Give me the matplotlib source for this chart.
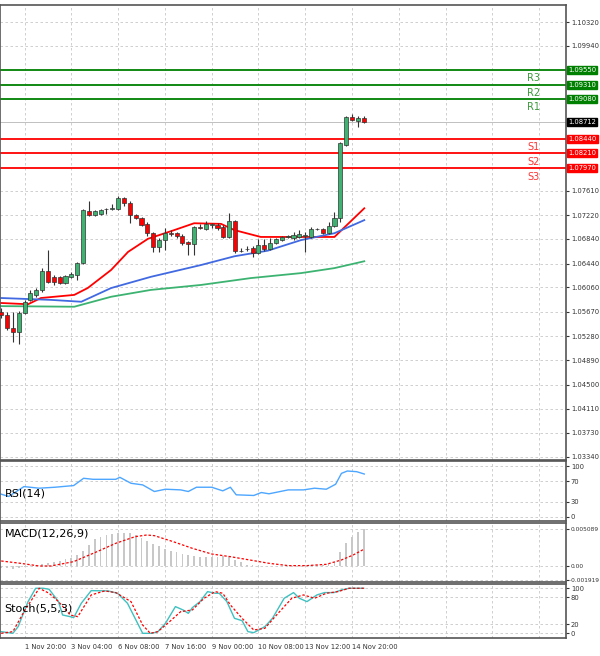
import matplotlib
matplotlib.use("Agg")
import matplotlib.pyplot as plt
import numpy as np

# OHLC, hourly-ish bars (index = bar number)
opens = [1.0567, 1.0562, 1.0541, 1.0534, 1.0565, 1.0586, 1.0594, 1.0602, 1.0632, 1.0623,
         1.0623, 1.0613, 1.0623, 1.0626, 1.0645, 1.0729, 1.0722, 1.0724, 1.0732, 1.0732,
         1.0732, 1.0750, 1.0741, 1.0722, 1.0717, 1.0708, 1.0693, 1.0671, 1.0682, 1.0693,
         1.0693, 1.0689, 1.0679, 1.0676, 1.0703, 1.0700, 1.0706, 1.0706, 1.0703, 1.0687,
         1.0713, 1.0664, 1.0668, 1.0669, 1.0661, 1.0674, 1.0668, 1.0677, 1.0682, 1.0687,
         1.0685, 1.0687, 1.0689, 1.0687, 1.0700, 1.0700, 1.0693, 1.0705, 1.0717, 1.0835,
         1.0880, 1.0873, 1.0878]
highs = [1.0573, 1.0567, 1.0567, 1.0568, 1.0586, 1.0602, 1.0605, 1.0637, 1.0666, 1.0626,
         1.0624, 1.0626, 1.0631, 1.0647, 1.0732, 1.0745, 1.0730, 1.0732, 1.0733, 1.0740,
         1.0753, 1.0751, 1.0745, 1.0724, 1.0719, 1.0711, 1.0695, 1.0685, 1.0701, 1.0698,
         1.0695, 1.0692, 1.0680, 1.0705, 1.0708, 1.0713, 1.0709, 1.0709, 1.0706, 1.0725,
         1.0714, 1.0669, 1.0673, 1.0673, 1.0684, 1.0684, 1.0685, 1.0685, 1.0689, 1.0690,
         1.0695, 1.0698, 1.0695, 1.0703, 1.0701, 1.0701, 1.0711, 1.0727, 1.0839, 1.0881,
         1.0884, 1.0881, 1.0881]
lows = [1.0557, 1.0537, 1.0518, 1.0515, 1.0563, 1.0584, 1.0591, 1.0599, 1.0613, 1.0610,
        1.0612, 1.0612, 1.0621, 1.0618, 1.0644, 1.0721, 1.0721, 1.0722, 1.0724, 1.0730,
        1.0730, 1.0737, 1.0709, 1.0716, 1.0705, 1.0689, 1.0663, 1.0663, 1.0666, 1.0689,
        1.0685, 1.0674, 1.0658, 1.0658, 1.0700, 1.0698, 1.0701, 1.0698, 1.0685, 1.0685,
        1.0661, 1.0663, 1.0664, 1.0655, 1.0660, 1.0664, 1.0666, 1.0676, 1.0680, 1.0685,
        1.0682, 1.0685, 1.0663, 1.0685, 1.0698, 1.0692, 1.0692, 1.0703, 1.0711, 1.0833,
        1.0873, 1.0864, 1.0870]
closes = [1.0562, 1.0541, 1.0534, 1.0565, 1.0583, 1.0597, 1.0602, 1.0632, 1.0615, 1.0615,
          1.0613, 1.0624, 1.0627, 1.0645, 1.0730, 1.0722, 1.0729, 1.0730, 1.0732, 1.0733,
          1.0750, 1.0741, 1.0722, 1.0717, 1.0706, 1.0693, 1.0671, 1.0682, 1.0693, 1.0692,
          1.0689, 1.0677, 1.0676, 1.0703, 1.0702, 1.0708, 1.0707, 1.0701, 1.0687, 1.0713,
          1.0664, 1.0665, 1.0667, 1.0661, 1.0674, 1.0668, 1.0677, 1.0684, 1.0687, 1.0688,
          1.0690, 1.0692, 1.0690, 1.0700, 1.0699, 1.0693, 1.0705, 1.0717, 1.0838, 1.0880,
          1.0875, 1.0878, 1.0871]

# moving averages (bar index, price)
ma_fast_x = [0, 4.6, 6.8, 12.5, 14.8, 18.8, 21.7, 25.1, 29.6, 33.0, 37.6, 39.9, 44.4, 57.0, 62.1]
ma_fast = [1.0581, 1.0579, 1.0589, 1.0594, 1.0605, 1.0634, 1.0663, 1.0684, 1.0698, 1.0709,
           1.0708, 1.0698, 1.0687, 1.0687, 1.0733]
ma_mid_x = [0, 8.5, 13.7, 18.8, 25.6, 34.2, 39.9, 45.6, 51.3, 57.0, 62.1]
ma_mid = [1.0589, 1.0586, 1.0583, 1.0605, 1.0623, 1.0642, 1.0656, 1.0665, 1.0682, 1.0693, 1.0714]
ma_slow_x = [0, 12.5, 18.8, 25.6, 34.2, 42.7, 51.3, 57.0, 62.1]
ma_slow = [1.0576, 1.0575, 1.0591, 1.0602, 1.0610, 1.0621, 1.0629, 1.0637, 1.0648]

res_levels = [1.09550, 1.09310, 1.09080]
res_names = ["R3", "R2", "R1"]
sup_levels = [1.08440, 1.08210, 1.07970]
sup_names = ["S1", "S2", "S3"]
last_price = 1.08712

price_ticks = [1.10320, 1.09940, 1.07610, 1.07220, 1.06840,
               1.06440, 1.06060, 1.05670, 1.05280, 1.04890, 1.04500, 1.04110, 1.03730, 1.03340]

rsi_x = [0, 1.3, 3.9, 6.5, 9.2, 12.4, 14.1, 15.7, 19.6, 20.3, 22.2, 24.2, 26.2, 28.1, 30.7,
         32.0, 33.4, 36.0, 37.9, 39.2, 40.2, 43.2, 44.5, 45.8, 49.1, 51.7, 53.6, 55.6, 57.2,
         58.2, 59.2, 60.8, 62.1]
rsi = [44.8, 40.3, 59.7, 56.5, 58.4, 61.7, 76.0, 74.0, 74.0, 77.9, 66.2, 63.0, 50.0, 54.5,
       53.2, 50.0, 58.4, 58.4, 51.3, 58.4, 43.5, 42.2, 48.0, 45.5, 53.2, 53.2, 56.5, 54.5,
       64.3, 85.7, 90.3, 89.0, 84.4]

macd_hist = [-0.3, -0.3, -0.4, -0.3, -0.1, 0.1, 0.2, 0.3, 0.4, 0.6, 0.7, 0.9, 1.1, 1.5, 2.1,
             2.9, 3.7, 4.0, 4.3, 4.4, 4.5, 4.6, 4.5, 4.3, 3.9, 3.5, 3.0, 2.7, 2.3, 2.1, 1.9,
             1.6, 1.5, 1.4, 1.3, 1.3, 1.3, 1.3, 1.4, 1.2, 0.8, 0.5, 0.2, 0.1, 0.05, 0.0, 0.0,
             0.0, 0.05, 0.05, 0.1, 0.1, 0.1, 0.15, 0.2, 0.2, 0.3, 0.6, 1.9, 3.1, 4.0, 4.7, 5.1]
macd_sig_x = [0, 3.3, 6.5, 8.5, 12.4, 16.4, 19.6, 22.9, 24.9, 26.2, 29.4, 32.7, 36.0, 39.2,
              42.5, 45.8, 49.1, 52.3, 55.6, 58.2, 60.2, 62.0]
macd_sig = [0.69, 0.37, 0.0, 0.0, 0.6, 1.97, 3.12, 4.03, 4.26, 4.17, 3.35, 2.43, 1.65, 1.28,
            0.83, 0.37, 0.05, 0.05, 0.23, 0.83, 1.51, 2.29]

stoch_k_x = [0, 2.0, 2.9, 4.6, 5.9, 7.2, 8.2, 9.8, 10.5, 11.8, 12.4, 13.7, 15.4, 18.3, 19.9,
             21.6, 22.9, 24.2, 25.8, 26.8, 28.1, 29.8, 31.1, 32.0, 32.7, 34.0, 35.3, 36.6,
             37.3, 38.6, 39.9, 41.2, 42.2, 43.2, 45.1, 46.4, 48.4, 50.0, 51.0, 52.3, 54.0,
             55.3, 56.9, 58.2, 59.5, 60.8, 62.0]
stoch_k = [3.7, 0, 14.8, 70.4, 100, 100, 97.8, 70.4, 40.7, 37.0, 34.8, 66.7, 94.8, 94.1, 88.9,
           66.7, 33.3, 0, 0, 3.7, 22.2, 59.3, 51.9, 44.4, 57.0, 70.4, 92.6, 88.9, 88.9, 70.4,
           33.3, 28.1, 3.7, 1.5, 14.8, 33.3, 77.8, 90.4, 77.8, 70.4, 85.2, 90.4, 90.4, 96.3,
           100, 100, 100]
stoch_d_x = [0, 2.0, 3.9, 6.5, 8.2, 9.8, 11.8, 13.1, 15.4, 17.7, 19.6, 22.2, 24.2, 25.5, 26.8,
             28.8, 30.7, 32.7, 34.7, 36.6, 37.9, 39.2, 41.2, 43.2, 45.1, 47.1, 49.7, 51.7,
             53.6, 55.6, 57.6, 59.5, 62.0]
stoch_d = [0, 3.7, 48.1, 100, 88.9, 70.4, 40.7, 37.0, 85.2, 94.1, 90.4, 70.4, 18.5, 0, 3.7,
           25.9, 48.1, 51.9, 77.8, 92.6, 88.9, 63.0, 33.3, 7.4, 11.1, 40.7, 77.8, 85.2, 77.8,
           88.9, 92.6, 100, 100]

time_ticks = [-4, 4, 12, 20, 28, 36, 44, 52, 60]
time_labels = ["12:00", "1 Nov 20:00", "3 Nov 04:00", "6 Nov 08:00", "7 Nov 16:00",
               "9 Nov 00:00", "10 Nov 08:00", "13 Nov 12:00", "14 Nov 20:00"]

GREEN = "#3cb371"
W, H = 600, 656
XL = (-0.2, 96.6)
FS = 4.9
grid_kw = dict(color="#c8c8c8", linestyle=(0, (3, 3)), linewidth=0.6)


def panel(top, bottom):
    ax = fig.add_axes([0, 1 - bottom / H, 566 / W, (bottom - top) / H])
    ax.set_xlim(*XL)
    ax.yaxis.tick_right()
    ax.tick_params(axis="y", labelsize=FS, length=2, pad=1.5, colors="#333333")
    ax.tick_params(axis="x", length=0)
    ax.set_xticks(time_ticks[1:] + [68, 76, 84, 92])
    ax.set_xticklabels([])
    ax.grid(True, **grid_kw)
    for s in ax.spines.values():
        s.set_color("#555555")
        s.set_linewidth(1.2)
    return ax


def tag(ax, y, label, color):
    ax.text(1.004, y, label, transform=ax.get_yaxis_transform(), fontsize=FS,
            color="white", va="center", ha="left",
            bbox=dict(boxstyle="square,pad=0.15", fc=color, ec=color))


fig = plt.figure(figsize=(6, 6.56), dpi=100)

# main price panel
ax = panel(5, 460)
ax.set_ylim(1.03290, 1.10593)
ax.set_yticks(price_ticks)
ax.set_yticklabels([f"{t:.5f}" for t in price_ticks])
x = np.arange(len(opens))
for i in x:
    up = closes[i] >= opens[i]
    ax.vlines(i, lows[i], highs[i], color="#333333", linewidth=0.8, zorder=3)
    lo, hi = min(opens[i], closes[i]), max(opens[i], closes[i])
    ax.bar(i, max(hi - lo, 0.00006), bottom=lo, width=0.7, color=GREEN if up else "#ff0000",
           edgecolor="#333333", linewidth=0.5, zorder=4)
ax.plot(ma_fast_x, ma_fast, color="#ff0000", linewidth=1.3, zorder=2)
ax.plot(ma_mid_x, ma_mid, color="#4169e1", linewidth=1.3, zorder=2)
ax.plot(ma_slow_x, ma_slow, color=GREEN, linewidth=1.3, zorder=2)

ax.axhline(last_price, color="#c0c0c0", linewidth=0.7)
for lv, nm in zip(res_levels, res_names):
    ax.axhline(lv, color="#008000", linewidth=1.3)
    ax.text(91, lv - 0.0005, nm, color="#3a9a3a", fontsize=7, ha="center", va="top")
    tag(ax, lv, f"{lv:.5f}", "#008000")
for lv, nm in zip(sup_levels, sup_names):
    ax.axhline(lv, color="#ff0000", linewidth=1.3)
    ax.text(91, lv - 0.0005, nm, color="#ff3333", fontsize=7, ha="center", va="top")
    tag(ax, lv, f"{lv:.5f}", "#ff0000")
tag(ax, last_price, f"{last_price:.5f}", "black")

# RSI
ax_r = panel(461, 521)
ax_r.set_ylim(-8, 110)
ax_r.set_yticks([0, 30, 70, 100])
ax_r.plot(rsi_x, rsi, color="#4da6ff", linewidth=1.0)
ax_r.text(0.008, 0.45, "RSI(14)", transform=ax_r.transAxes, fontsize=8, va="center")

# MACD
ax_m = panel(523, 582)
ax_m.set_ylim(-2.2, 5.91)
ax_m.set_yticks([5.089, 0.0, -1.919])
ax_m.set_yticklabels(["0.005089", "0.00", "-0.001919"])
ax_m.tick_params(axis="y", labelsize=4.2, pad=1)
ax_m.bar(x, macd_hist, width=0.3, color="#c8c8c8")
ax_m.plot(macd_sig_x, macd_sig, color="#ff0000", linewidth=0.9, linestyle=(0, (2, 1.5)))
ax_m.text(0.008, 0.82, "MACD(12,26,9)", transform=ax_m.transAxes, fontsize=8, va="center")

# Stochastic
ax_s = panel(584, 638)
ax_s.set_ylim(-10.4, 109.5)
ax_s.set_yticks([0, 20, 80, 100])
ax_s.plot(stoch_k_x, stoch_k, color="#40c0c0", linewidth=1.0)
ax_s.plot(stoch_d_x, stoch_d, color="#ff0000", linewidth=0.9, linestyle=(0, (2, 1.5)))
ax_s.text(0.008, 0.55, "Stoch(5,5,3)", transform=ax_s.transAxes, fontsize=8, va="center")

for t, lab in zip(time_ticks, time_labels):
    ax_s.text(t, -0.12, lab, transform=ax_s.get_xaxis_transform(), fontsize=FS,
              ha="left", va="top", color="#333333")

fig.savefig("out.png", dpi=100)
